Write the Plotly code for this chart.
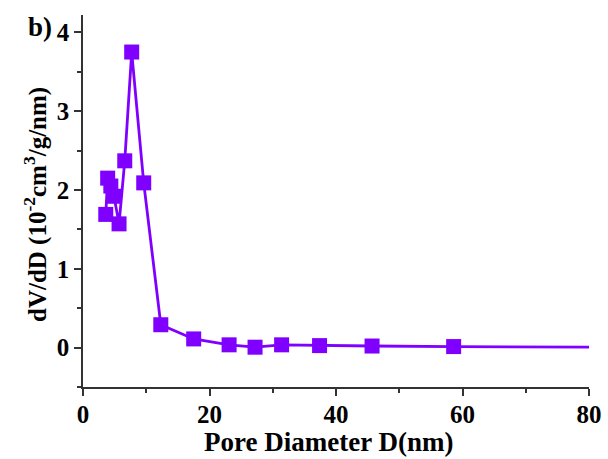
import plotly.graph_objects as go

pore_diameter = [3.6, 3.9, 4.4, 4.9, 5.7, 6.6, 7.7, 9.6, 12.3, 17.5, 23.1, 27.2, 31.4, 37.4, 45.7, 58.6, 80.0]
dv_dd = [1.69, 2.15, 2.05, 1.92, 1.57, 2.37, 3.75, 2.09, 0.29, 0.11, 0.035, 0.005, 0.035, 0.025, 0.02, 0.013, 0.005]
show_marker = [True] * 16 + [False]

color = "#7F00FF"
font_family = "Liberation Serif"

W, H = 608, 459
ML, MR, MT, MB = 83, 19, 15, 72
PW, PH = W - ML - MR, H - MT - MB

def px_x(px):
    return (px - ML) / PW

def px_y(py):
    return (H - MB - py) / PH

fig = go.Figure()
fig.add_trace(go.Scatter(
    x=pore_diameter, y=dv_dd, mode="lines+markers",
    line=dict(color=color, width=2.8),
    marker=dict(symbol="square", color=color, opacity=1,
                size=[15 if s else 0 for s in show_marker],
                line=dict(width=0)),
    showlegend=False,
))

axis_common = dict(
    showline=True, linecolor="#333333", linewidth=1.5,
    ticks="outside", ticklen=7, tickwidth=1.5, tickcolor="#333333",
    showgrid=False, zeroline=False, mirror=False, automargin=False,
    tickfont=dict(family=font_family, size=25, color="black"),
)

fig.update_layout(
    width=W, height=H,
    margin=dict(l=ML, r=MR, t=MT, b=MB),
    plot_bgcolor="white", paper_bgcolor="white",
    font=dict(family=font_family, color="black"),
    xaxis=dict(
        range=[0, 80], dtick=20, tick0=0,
        minor=dict(dtick=10, ticks="outside", ticklen=4, tickwidth=1.5, tickcolor="#333333"),
        tickprefix="<b>", ticksuffix="</b>",
        ticklabelstandoff=-3,
        **axis_common,
    ),
    yaxis=dict(
        range=[-0.5, 4.22], dtick=1, tick0=0,
        minor=dict(dtick=0.5, ticks="outside", ticklen=4, tickwidth=1.5, tickcolor="#333333"),
        tickprefix="<b>", ticksuffix="</b>",
        **axis_common,
    ),
    annotations=[
        dict(text="<b>b)</b>", xref="paper", yref="paper",
             x=px_x(40), y=px_y(27), xanchor="center", yanchor="middle",
             showarrow=False, font=dict(family=font_family, size=27, color="black")),
        dict(text="<b>Pore Diameter D(nm)</b>", xref="paper", yref="paper",
             x=px_x(328), y=px_y(459), xanchor="center", yanchor="bottom",
             showarrow=False, font=dict(family=font_family, size=27, color="black")),
        dict(text="<b>dV/dD (10<sup>-2</sup>cm<sup>3</sup>/g/nm)</b>", xref="paper", yref="paper",
             x=px_x(35), y=px_y(205), xanchor="center", yanchor="middle", textangle=-90,
             showarrow=False, font=dict(family=font_family, size=25, color="black")),
    ],
)

fig.write_html("out.html")
